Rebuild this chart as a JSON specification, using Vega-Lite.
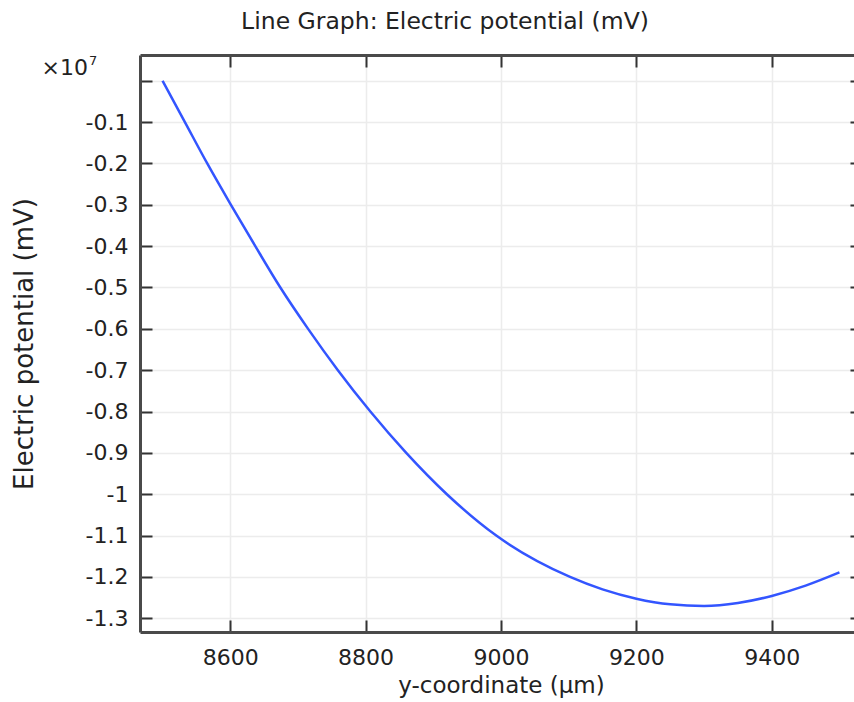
{
  "$schema": "https://vega.github.io/schema/vega-lite/v6.json",
  "autosize": "none",
  "width": 722,
  "height": 577,
  "padding": {"left": 140, "top": 55, "right": -8, "bottom": 70},
  "background": "white",
  "config": {
    "font": "DejaVu Sans",
    "view": {"stroke": null},
    "axis": {
      "labelFont": "DejaVu Sans",
      "titleFont": "DejaVu Sans",
      "labelFontSize": 22,
      "titleFontSize": 23,
      "labelColor": "#222222",
      "titleColor": "#222222",
      "titleFontWeight": "normal",
      "domainColor": "#4a4a4a",
      "domainWidth": 3,
      "tickColor": "#333333",
      "tickWidth": 2,
      "tickSize": -12,
      "gridColor": "#ececec",
      "gridWidth": 1.5
    }
  },
  "title": {
    "text": "Line Graph: Electric potential (mV)",
    "font": "DejaVu Sans",
    "fontSize": 23.5,
    "fontWeight": "normal",
    "color": "#222222",
    "anchor": "middle",
    "dx": -56,
    "offset": 21
  },
  "data": {
    "values": [
      {"y_um": 8500, "V_mV": 0},
      {"y_um": 8533, "V_mV": -1000000},
      {"y_um": 8566, "V_mV": -2000000},
      {"y_um": 8601, "V_mV": -3000000},
      {"y_um": 8637, "V_mV": -4000000},
      {"y_um": 8674, "V_mV": -5000000},
      {"y_um": 8715, "V_mV": -6000000},
      {"y_um": 8759, "V_mV": -7000000},
      {"y_um": 8807, "V_mV": -8000000},
      {"y_um": 8860, "V_mV": -9000000},
      {"y_um": 8920, "V_mV": -10000000},
      {"y_um": 8993, "V_mV": -11000000},
      {"y_um": 9102, "V_mV": -12000000},
      {"y_um": 9150, "V_mV": -12300000},
      {"y_um": 9200, "V_mV": -12525000},
      {"y_um": 9250, "V_mV": -12660000},
      {"y_um": 9300, "V_mV": -12700000},
      {"y_um": 9350, "V_mV": -12630000},
      {"y_um": 9400, "V_mV": -12460000},
      {"y_um": 9450, "V_mV": -12210000},
      {"y_um": 9500, "V_mV": -11890000}
    ]
  },
  "layer": [
    {
      "mark": {"type": "line", "color": "#3355ff", "strokeWidth": 2.5, "interpolate": "monotone", "clip": true},
      "encoding": {
        "x": {
          "field": "y_um",
          "type": "quantitative",
          "scale": {"domain": [8466.67, 9533.33], "nice": false, "zero": false},
          "axis": {
            "orient": "bottom",
            "title": "y-coordinate (µm)",
            "values": [8600, 8800, 9000, 9200, 9400],
            "format": "d",
            "grid": true,
            "labelPadding": 27,
            "titlePadding": 6
          }
        },
        "y": {
          "field": "V_mV",
          "type": "quantitative",
          "scale": {"domain": [-13331000, 622000], "nice": false, "zero": false},
          "axis": {
            "orient": "left",
            "title": "Electric potential (mV)",
            "titleFontSize": 26,
            "values": [0, -1000000, -2000000, -3000000, -4000000, -5000000, -6000000, -7000000, -8000000, -9000000, -10000000, -11000000, -12000000, -13000000],
            "labelExpr": "datum.value == 0 ? '' : '' + (datum.value / 10000000)",
            "grid": true,
            "labelPadding": 24,
            "titlePadding": 48
          }
        }
      }
    },
    {
      "data": {"values": [{"y_um": 8466.67, "V_mV": 622000, "multiplier": "×10", "exponent": "7"}]},
      "layer": [
        {
          "mark": {"type": "text", "align": "right", "baseline": "alphabetic", "dx": -52, "dy": 20, "fontSize": 22, "font": "DejaVu Sans", "color": "#222222"},
          "encoding": {
            "text": {"field": "multiplier"},
            "x": {
              "field": "y_um",
              "type": "quantitative",
              "axis": {"orient": "top", "title": null, "labels": false, "grid": false, "values": [8600, 8800, 9000, 9200, 9400]}
            },
            "y": {
              "field": "V_mV",
              "type": "quantitative",
              "axis": {"orient": "right", "title": null, "labels": false, "grid": false, "values": [0, -1000000, -2000000, -3000000, -4000000, -5000000, -6000000, -7000000, -8000000, -9000000, -10000000, -11000000, -12000000, -13000000]}
            }
          }
        },
        {
          "mark": {"type": "text", "align": "left", "baseline": "alphabetic", "dx": -51, "dy": 10, "fontSize": 13, "font": "DejaVu Sans", "color": "#222222"},
          "encoding": {
            "text": {"field": "exponent"},
            "x": {"field": "y_um", "type": "quantitative"},
            "y": {"field": "V_mV", "type": "quantitative"}
          }
        }
      ]
    }
  ],
  "resolve": {"axis": {"x": "independent", "y": "independent"}}
}
